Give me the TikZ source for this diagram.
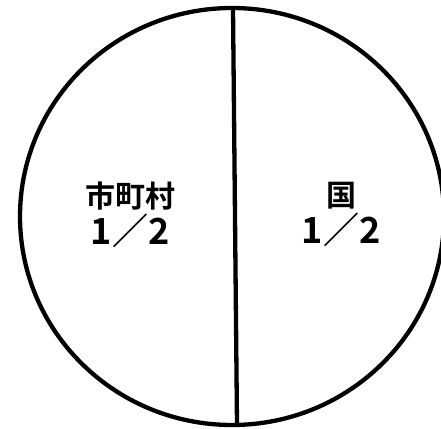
\documentclass[tikz,border=0pt]{standalone}
\usepackage{fontspec}
\newfontfamily\cjk{Noto Sans CJK JP Bold}
\begin{document}
\begin{tikzpicture}[x=1pt,y=-1pt,
    share/.style={font=\cjk\fontsize{30}{37}\selectfont, align=center, inner sep=0pt}]
  \useasboundingbox (0,0) rectangle (441,428);
  \clip (0,0) rectangle (441,428);
  \draw[line width=4.3pt] (232,216.5) ellipse [x radius=212, y radius=208.5];

  \coordinate (top) at (233,8);
  \coordinate (bot) at (237,425);
  \draw[line width=4.3pt] (top) -- (bot);

  \node[share] (city) at (130,215) {市町村\\{\fontsize{36}{37}\selectfont 1／2}};
  \node[share] (state) at (341,215) {国\\{\fontsize{36}{37}\selectfont 1／2}};
\end{tikzpicture}
\end{document}
